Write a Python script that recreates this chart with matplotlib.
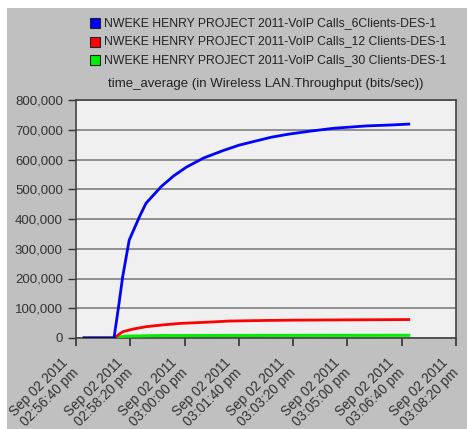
import matplotlib.pyplot as plt
from matplotlib.patches import Rectangle
from matplotlib.ticker import FuncFormatter
from matplotlib.transforms import ScaledTranslation

plt.rcParams['font.family'] = ['Liberation Sans', 'DejaVu Sans']

# seconds after Sep 02 2011 02:56:40 pm
t_6 = [15, 70, 78, 86, 98, 117, 129, 157, 180, 203, 235, 271, 300, 333, 360, 391, 430, 475, 536, 580, 613]
v_6 = [0, 0, 100000, 206000, 329000, 408000, 453000, 509000, 545000, 574000, 605000, 630000, 648000,
       663000, 675000, 685000, 695000, 705000, 713000, 716000, 719000]
t_12 = [15, 70, 86, 105, 129, 160, 191, 240, 283, 350, 407, 500, 613]
v_12 = [0, 0, 21000, 30000, 38000, 44000, 49000, 53000, 57000, 59000, 60000, 61000, 62000]
t_30 = [15, 70, 90, 150, 300, 613]
v_30 = [0, 0, 6000, 8000, 8500, 9000]

series_names = ['NWEKE HENRY PROJECT 2011-VoIP Calls_6Clients-DES-1',
                'NWEKE HENRY PROJECT 2011-VoIP Calls_12 Clients-DES-1',
                'NWEKE HENRY PROJECT 2011-VoIP Calls_30 Clients-DES-1']
colors = ['#0000ff', '#ff0000', '#00ee00']

tick_pos = [0, 100, 200, 300, 400, 500, 600, 700]
tick_labels = ['Sep 02 2011\n02:56:40 pm', 'Sep 02 2011\n02:58:20 pm', 'Sep 02 2011\n03:00:00 pm',
               'Sep 02 2011\n03:01:40 pm', 'Sep 02 2011\n03:03:20 pm', 'Sep 02 2011\n03:05:00 pm',
               'Sep 02 2011\n03:06:40 pm', 'Sep 02 2011\n03:08:20 pm']
y_ticks = [0, 100000, 200000, 300000, 400000, 500000, 600000, 700000, 800000]

W, H = 471, 429
fig = plt.figure(figsize=(W / 100, H / 100), dpi=100)
fig.patch.set_facecolor('white')
# gray panel
fig.patches.append(Rectangle((7 / W, 0), 460 / W, (H - 8) / H, transform=fig.transFigure,
                             facecolor='#c0c0c0', edgecolor='none', zorder=-10))

ax = fig.add_axes([76 / W, (H - 338) / H, 380 / W, 238 / H])
ax.set_facecolor('#f0f0f0')

ax.plot(t_30, v_30, color=colors[2], lw=2.2, zorder=3)
ax.plot(t_12, v_12, color=colors[1], lw=2.0, zorder=4)
ax.plot(t_6, v_6, color=colors[0], lw=2.0, zorder=5)
# dark overlap at zero before start
ax.plot([15, 70], [0, 0], color='#000080', lw=2.2, zorder=6)

ax.set_xlim(0, 700)
ax.set_ylim(0, 800000)
ax.set_yticks(y_ticks)
ax.yaxis.set_major_formatter(FuncFormatter(lambda v, p: f'{int(v):,}'))
ax.set_xticks(tick_pos)
ax.tick_params(axis='y', labelsize=9.5, labelcolor='#333333', length=6, width=1, color='#333333')
ax.tick_params(axis='x', length=6, width=1.2, color='#333333', pad=6.5)
ax.set_xticklabels(tick_labels, rotation=45, ha='right', va='top', rotation_mode='anchor',
                   fontsize=9.8, color='#333333', linespacing=1.1)
# move labels back along the axis like the original
shift = ScaledTranslation(-15 / 100, 0, fig.dpi_scale_trans)
for lab in ax.get_xticklabels():
    lab.set_transform(lab.get_transform() + shift)
ax.grid(axis='y', color='#888888', lw=1.3)
ax.set_axisbelow(True)
for s in ax.spines.values():
    s.set_color('#444444')
    s.set_linewidth(1.2)

ax.set_title('time_average (in Wireless LAN.Throughput (bits/sec))', fontsize=9.5, color='#222222', pad=9)

# legend as colored squares
for i, name in enumerate(series_names):
    y = 23 + i * 18.5
    fig.patches.append(Rectangle((90 / W, (H - y - 5) / H), 10 / W, 10 / H, transform=fig.transFigure,
                                 facecolor=colors[i], edgecolor='#222222', lw=0.8, zorder=2))
    fig.text(104 / W, (H - y) / H, name, fontsize=8.8, color='#222222', va='center', ha='left')

fig.savefig('out.png', dpi=100)
